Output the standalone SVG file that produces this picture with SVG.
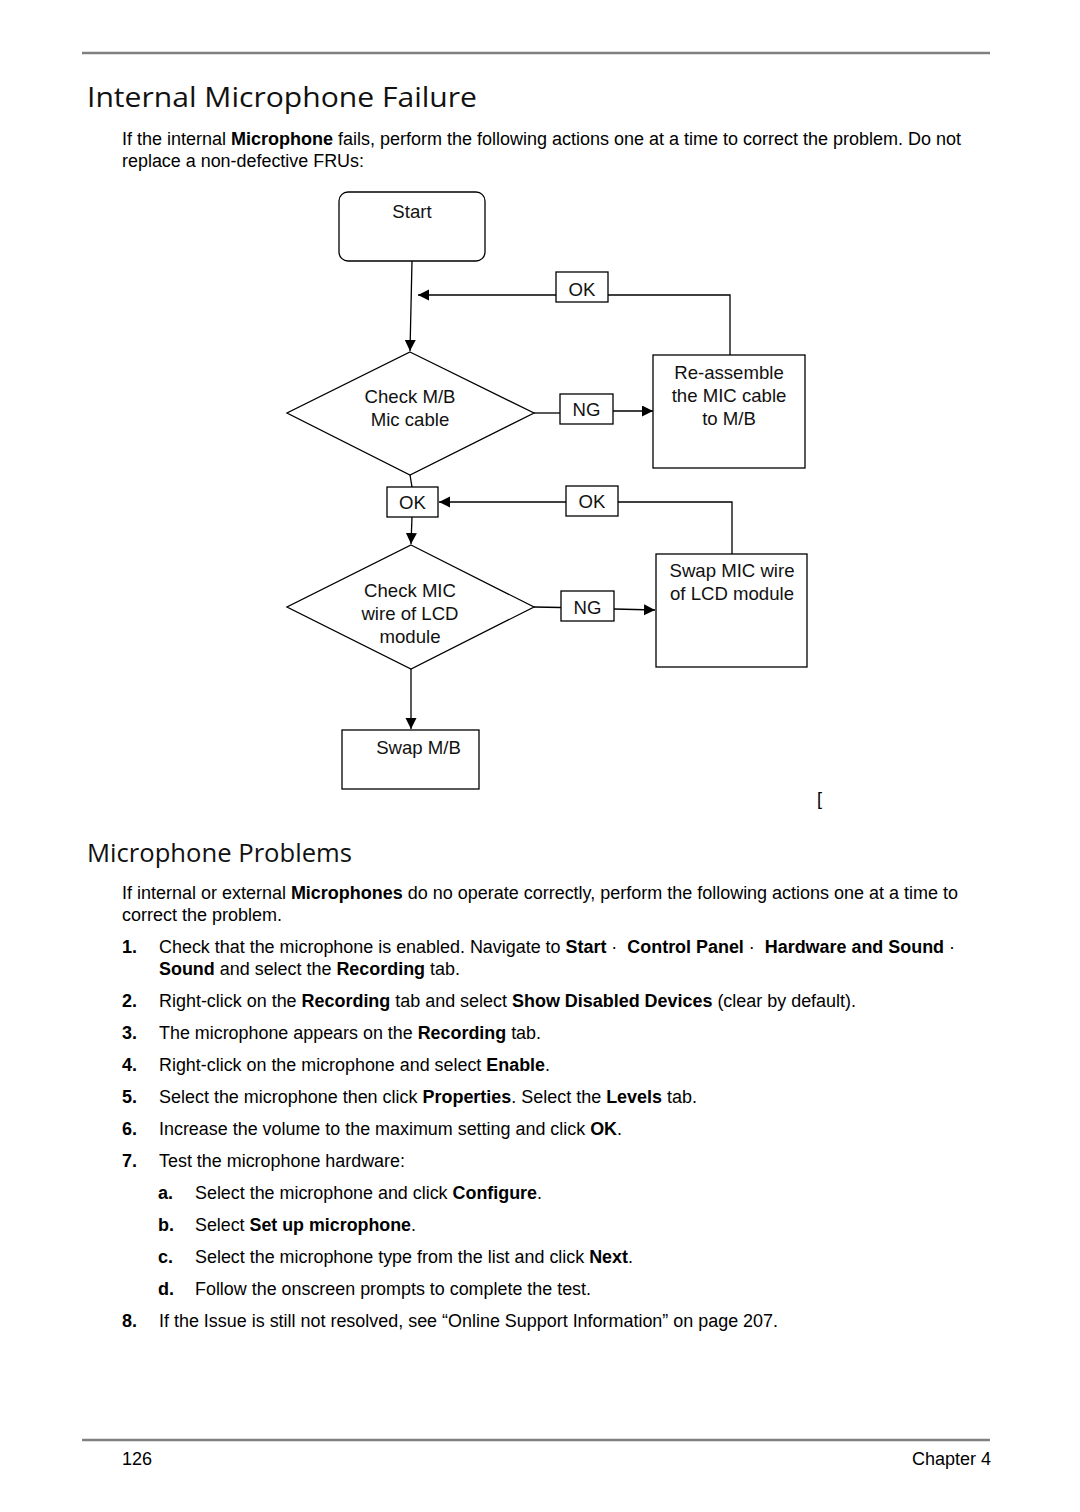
<svg xmlns="http://www.w3.org/2000/svg" width="1080" height="1512" viewBox="0 0 1080 1512">
<style>
.t{font-family:"Liberation Sans",Arial,Helvetica,sans-serif;font-size:18px;fill:#000}
.b{font-weight:bold}
.fc{font-family:"Liberation Sans",Arial,Helvetica,sans-serif;font-size:18.6px;fill:#111;text-anchor:middle}
.h{font-family:"Open Sans","Noto Sans",sans-serif;fill:#111}
.shape{fill:#fff;stroke:#000;stroke-width:1.3}
.conn{fill:none;stroke:#000;stroke-width:1.3}
.rule{stroke:#808080;stroke-width:2.5}
</style>
<defs>
<marker id="arr" markerUnits="userSpaceOnUse" markerWidth="12" markerHeight="12" refX="11" refY="5.5" orient="auto">
<path d="M0,0 L11,5.5 L0,11 z" fill="#000"/>
</marker>
</defs>
<rect width="1080" height="1512" fill="#fff"/>

<line class="rule" x1="82" y1="53" x2="990" y2="53"/>
<text class="h" x="87" y="107" font-size="28" textLength="390" lengthAdjust="spacingAndGlyphs">Internal Microphone Failure</text>
<text class="t" x="122" y="145" textLength="839" lengthAdjust="spacingAndGlyphs">If the internal <tspan class="b">Microphone</tspan> fails, perform the following actions one at a time to correct the problem. Do not</text>
<text class="t" x="122" y="167" textLength="242" lengthAdjust="spacingAndGlyphs">replace a non-defective FRUs:</text>

<g id="connectors">
<path class="conn" d="M412,261 L410,351" marker-end="url(#arr)"/>
<path class="conn" d="M730,355 L730,295 L608,295"/>
<path class="conn" d="M556,295 L418,295" marker-end="url(#arr)"/>
<path class="conn" d="M534,413 L560,413"/>
<path class="conn" d="M613,411 L653,411" marker-end="url(#arr)"/>
<path class="conn" d="M410,475 L412,487"/>
<path class="conn" d="M732,554 L732,502 L618,502"/>
<path class="conn" d="M566,502 L439,502" marker-end="url(#arr)"/>
<path class="conn" d="M412,517 L411,544" marker-end="url(#arr)"/>
<path class="conn" d="M534,607 L561,607.5"/>
<path class="conn" d="M614,609 L655,610" marker-end="url(#arr)"/>
<path class="conn" d="M411,669 L411,729" marker-end="url(#arr)"/>
</g>

<g id="start">
<rect class="shape" x="339" y="192" width="146" height="69" rx="9"/>
<text class="fc" x="412" y="218">Start</text>
</g>
<g id="ok1">
<rect class="shape" x="556" y="272" width="52" height="30"/>
<text class="fc" x="582" y="296">OK</text>
</g>
<g id="check-mb">
<polygon class="shape" points="410,352 534,413 410,475 287,413"/>
<text class="fc" x="410" y="403">Check M/B</text>
<text class="fc" x="410" y="426">Mic cable</text>
</g>
<g id="ng1">
<rect class="shape" x="560" y="394" width="53" height="30"/>
<text class="fc" x="586.5" y="416">NG</text>
</g>
<g id="reassemble">
<rect class="shape" x="653" y="355" width="152" height="113"/>
<text class="fc" x="729" y="378.5">Re-assemble</text>
<text class="fc" x="729" y="401.5">the MIC cable</text>
<text class="fc" x="729" y="424.5">to M/B</text>
</g>
<g id="ok2">
<rect class="shape" x="387" y="487" width="51" height="30"/>
<text class="fc" x="412.5" y="509">OK</text>
</g>
<g id="ok3">
<rect class="shape" x="566" y="486" width="52" height="30"/>
<text class="fc" x="592" y="508">OK</text>
</g>
<g id="check-mic">
<polygon class="shape" points="411,545 534,607 411,669 287,607"/>
<text class="fc" x="410" y="597">Check MIC</text>
<text class="fc" x="410" y="620">wire of LCD</text>
<text class="fc" x="410" y="643">module</text>
</g>
<g id="ng2">
<rect class="shape" x="561" y="591" width="53" height="30"/>
<text class="fc" x="587.5" y="614">NG</text>
</g>
<g id="swap-mic">
<rect class="shape" x="656" y="554" width="151" height="113"/>
<text class="fc" x="732" y="577">Swap MIC wire</text>
<text class="fc" x="732" y="600">of LCD module</text>
</g>
<g id="swap-mb">
<rect class="shape" x="342" y="730" width="137" height="59"/>
<text class="fc" x="418.5" y="754">Swap M/B</text>
</g>
<text class="t" x="817" y="805">[</text>

<text class="h" x="87" y="862" font-size="26" textLength="265" lengthAdjust="spacingAndGlyphs">Microphone Problems</text>
<text class="t" x="122" y="899" textLength="836" lengthAdjust="spacingAndGlyphs">If internal or external <tspan class="b">Microphones</tspan> do no operate correctly, perform the following actions one at a time to</text>
<text class="t" x="122" y="921" textLength="160" lengthAdjust="spacingAndGlyphs">correct the problem.</text>

<text class="t b" x="122" y="953">1.</text>
<text class="t" x="159" y="953" textLength="796" lengthAdjust="spacingAndGlyphs">Check that the microphone is enabled. Navigate to <tspan class="b">Start</tspan> ·&#160; <tspan class="b">Control Panel</tspan> ·&#160; <tspan class="b">Hardware and Sound</tspan> ·</text>
<text class="t" x="159" y="975" textLength="301" lengthAdjust="spacingAndGlyphs"><tspan class="b">Sound</tspan> and select the <tspan class="b">Recording</tspan> tab.</text>

<text class="t b" x="122" y="1007">2.</text>
<text class="t" x="159" y="1007" textLength="697" lengthAdjust="spacingAndGlyphs">Right-click on the <tspan class="b">Recording</tspan> tab and select <tspan class="b">Show Disabled Devices</tspan> (clear by default).</text>

<text class="t b" x="122" y="1039">3.</text>
<text class="t" x="159" y="1039" textLength="382" lengthAdjust="spacingAndGlyphs">The microphone appears on the <tspan class="b">Recording</tspan> tab.</text>

<text class="t b" x="122" y="1071">4.</text>
<text class="t" x="159" y="1071" textLength="391" lengthAdjust="spacingAndGlyphs">Right-click on the microphone and select <tspan class="b">Enable</tspan>.</text>

<text class="t b" x="122" y="1103">5.</text>
<text class="t" x="159" y="1103" textLength="538" lengthAdjust="spacingAndGlyphs">Select the microphone then click <tspan class="b">Properties</tspan>. Select the <tspan class="b">Levels</tspan> tab.</text>

<text class="t b" x="122" y="1135">6.</text>
<text class="t" x="159" y="1135" textLength="463" lengthAdjust="spacingAndGlyphs">Increase the volume to the maximum setting and click <tspan class="b">OK</tspan>.</text>

<text class="t b" x="122" y="1167">7.</text>
<text class="t" x="159" y="1167" textLength="246" lengthAdjust="spacingAndGlyphs">Test the microphone hardware:</text>

<text class="t b" x="158" y="1199">a.</text>
<text class="t" x="195" y="1199" textLength="347" lengthAdjust="spacingAndGlyphs">Select the microphone and click <tspan class="b">Configure</tspan>.</text>

<text class="t b" x="158" y="1231">b.</text>
<text class="t" x="195" y="1231" textLength="221" lengthAdjust="spacingAndGlyphs">Select <tspan class="b">Set up microphone</tspan>.</text>

<text class="t b" x="158" y="1263">c.</text>
<text class="t" x="195" y="1263" textLength="438" lengthAdjust="spacingAndGlyphs">Select the microphone type from the list and click <tspan class="b">Next</tspan>.</text>

<text class="t b" x="158" y="1295">d.</text>
<text class="t" x="195" y="1295" textLength="396" lengthAdjust="spacingAndGlyphs">Follow the onscreen prompts to complete the test.</text>

<text class="t b" x="122" y="1327">8.</text>
<text class="t" x="159" y="1327" textLength="619" lengthAdjust="spacingAndGlyphs">If the Issue is still not resolved, see “Online Support Information” on page 207.</text>

<line class="rule" x1="82" y1="1440" x2="990" y2="1440"/>
<text class="t" x="122" y="1465">126</text>
<text class="t" x="991" y="1465" text-anchor="end">Chapter 4</text>
</svg>
